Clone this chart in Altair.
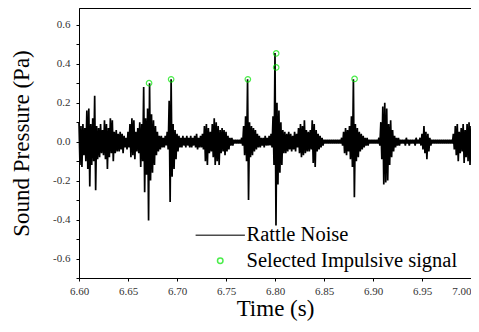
import altair as alt
import pandas as pd

# Sampling grid of the envelope (s)
t_start = 6.600
t_step = 0.002

# Upper / lower excursions of the rattle-noise trace (Pa)
upper = [0.10, 0.08, 0.09, 0.07, 0.16, 0.17, 0.09, 0.12, 0.235, 0.08,
         0.07, 0.09, 0.06, 0.11, 0.09, 0.07, 0.12, 0.11, 0.05, 0.06,
         0.04, 0.05, 0.04, 0.03, 0.02, 0.05, 0.09, 0.12, 0.11, 0.05,
         0.07, 0.10, 0.09, 0.28, 0.12, 0.17, 0.30, 0.14, 0.11, 0.08,
         0.05, 0.03, 0.03, 0.02, 0.03, 0.05, 0.21, 0.32, 0.09, 0.06,
         0.04, 0.03, 0.02, 0.03, 0.02, 0.03, 0.02, 0.03, 0.02, 0.03,
         0.04, 0.02, 0.03, 0.04, 0.08, 0.09, 0.07, 0.05, 0.09, 0.12,
         0.10, 0.08, 0.06, 0.07, 0.06, 0.05, 0.03, 0.02, 0.02, 0.01,
         0.01, 0.01, 0.01, 0.02, 0.08, 0.13, 0.32, 0.10, 0.08, 0.07,
         0.06, 0.04, 0.03, 0.02, 0.02, 0.03, 0.02, 0.03, 0.04, 0.13,
         0.455, 0.20, 0.16, 0.10, 0.06, 0.05, 0.04, 0.05, 0.04, 0.03,
         0.05, 0.04, 0.07, 0.09, 0.08, 0.11, 0.06, 0.05, 0.06, 0.11,
         0.09, 0.06, 0.04, 0.03, 0.02, 0.01, 0.01, 0.01, 0.01, 0.01,
         0.01, 0.01, 0.01, 0.01, 0.02, 0.05, 0.07, 0.06, 0.08, 0.13,
         0.32, 0.09, 0.07, 0.05, 0.04, 0.03, 0.02, 0.02, 0.01, 0.01,
         0.01, 0.01, 0.01, 0.02, 0.10, 0.18, 0.20, 0.17, 0.09, 0.11,
         0.06, 0.03, 0.02, 0.02, 0.01, 0.01, 0.01, 0.02, 0.01, 0.01,
         0.01, 0.01, 0.02, 0.01, 0.02, 0.04, 0.08, 0.05, 0.04, 0.02,
         0.01, 0.01, 0.01, 0.01, 0.01, 0.01, 0.01, 0.01, 0.01, 0.01,
         0.01, 0.04, 0.08, 0.09, 0.05, 0.07, 0.09, 0.06, 0.09, 0.10,
         0.08]
lower = [-0.12, -0.13, -0.07, -0.10, -0.14, -0.23, -0.12, -0.10, -0.25, -0.09,
         -0.08, -0.06, -0.07, -0.09, -0.14, -0.08, -0.06, -0.10, -0.06, -0.05,
         -0.05, -0.04, -0.06, -0.03, -0.04, -0.03, -0.08, -0.07, -0.09, -0.05,
         -0.06, -0.13, -0.10, -0.26, -0.17, -0.405, -0.20, -0.16, -0.12, -0.07,
         -0.05, -0.04, -0.03, -0.03, -0.02, -0.04, -0.31, -0.18, -0.14, -0.09,
         -0.05, -0.03, -0.03, -0.02, -0.03, -0.02, -0.03, -0.03, -0.02, -0.03,
         -0.04, -0.03, -0.03, -0.04, -0.10, -0.12, -0.06, -0.05, -0.08, -0.12,
         -0.10, -0.12, -0.06, -0.05, -0.07, -0.05, -0.04, -0.02, -0.02, -0.01,
         -0.01, -0.01, -0.01, -0.02, -0.07, -0.10, -0.30, -0.08, -0.07, -0.05,
         -0.04, -0.03, -0.03, -0.02, -0.03, -0.02, -0.02, -0.02, -0.03, -0.12,
         -0.43, -0.22, -0.16, -0.12, -0.06, -0.06, -0.05, -0.04, -0.05, -0.04,
         -0.05, -0.03, -0.06, -0.08, -0.07, -0.06, -0.05, -0.05, -0.04, -0.11,
         -0.13, -0.05, -0.04, -0.03, -0.02, -0.01, -0.01, -0.01, -0.01, -0.01,
         -0.01, -0.01, -0.01, -0.01, -0.02, -0.06, -0.07, -0.05, -0.09, -0.13,
         -0.285, -0.10, -0.08, -0.05, -0.04, -0.03, -0.02, -0.02, -0.01, -0.01,
         -0.01, -0.01, -0.01, -0.02, -0.09, -0.22, -0.21, -0.20, -0.12, -0.08,
         -0.05, -0.03, -0.02, -0.02, -0.01, -0.01, -0.02, -0.01, -0.02, -0.01,
         -0.01, -0.02, -0.01, -0.01, -0.02, -0.04, -0.06, -0.09, -0.05, -0.02,
         -0.01, -0.01, -0.01, -0.01, -0.01, -0.01, -0.01, -0.01, -0.01, -0.01,
         -0.01, -0.04, -0.07, -0.10, -0.06, -0.05, -0.11, -0.08, -0.10, -0.12,
         -0.09]

# Selected impulsive peaks
peak_t = [6.6715, 6.6940, 6.7723, 6.8012, 6.8012, 6.8812]
peak_p = [0.300, 0.320, 0.320, 0.453, 0.381, 0.322]

series_names = ["Rattle Noise", "Selected Impulsive signal"]
x_ticks = [6.60, 6.65, 6.70, 6.75, 6.80, 6.85, 6.90, 6.95, 7.00]
y_ticks = [-0.7, -0.6, -0.5, -0.4, -0.3, -0.2, -0.1, 0.0, 0.1, 0.2, 0.3, 0.4, 0.5, 0.6]

rows = []
for i, (u, l) in enumerate(zip(upper, lower)):
    t = t_start + i * t_step
    rows.append({"t": t, "p": u, "series": series_names[0]})
    rows.append({"t": t + t_step / 2, "p": l, "series": series_names[0]})
noise = pd.DataFrame(rows)
peaks = pd.DataFrame({"t": peak_t, "p": peak_p, "series": series_names[1]})

FONT = "Liberation Serif, Times New Roman, Times, serif"

xenc = alt.X("t:Q", scale=alt.Scale(domain=[6.6, 7.0], nice=False, zero=False),
             axis=alt.Axis(values=x_ticks, format=".2f", title="Time (s)", grid=False,
                           tickSize=3, labelPadding=4, titlePadding=1, labelFlush=False,
                           labelAlign={"condition": {"test": "datum.value > 6.99", "value": "right"},
                                       "value": "center"},
                           labelFont=FONT, titleFont=FONT))
yenc = alt.Y("p:Q", scale=alt.Scale(domain=[-0.7, 0.686], nice=False, zero=False),
             axis=alt.Axis(values=y_ticks, grid=False, tickSize=3, labelPadding=6,
                           labelFlush=False, labelFont=FONT, titleFont=FONT,
                           labelExpr="abs(round(datum.value*10)) % 2 == 0 && abs(datum.value) < 0.65 ? (datum.value < -0.01 ? '-' + format(abs(datum.value), '.1f') : format(abs(datum.value), '.1f')) : ''",
                           title="Sound Pressure (Pa)", titlePadding=19))

leg = dict(title=None, orient="none", legendX=131, legendY=217,
           labelFont=FONT, labelFontSize=20.5, labelColor="black", labelLimit=0,
           labelOffset=16, symbolSize=30, symbolStrokeWidth=1.5,
           rowPadding=4.5, symbolFillColor="transparent")
color = alt.Color("series:N", scale=alt.Scale(domain=series_names, range=["black", "#00e600"]),
                  legend=alt.Legend(**leg))
shape = alt.Shape("series:N", scale=alt.Scale(domain=series_names, range=["M-9,0H9", "circle"]),
                  legend=alt.Legend(**leg))

line = alt.Chart(noise).mark_line(strokeWidth=1.7, color="black").encode(
    x=xenc, y=yenc, color=color)
points = alt.Chart(peaks).mark_point(filled=False, size=30, strokeWidth=1.2).encode(
    x=xenc, y=yenc, color=color, shape=shape)

chart = alt.layer(line, points).properties(
    width=392, height=270,
    autosize=alt.AutoSizeParams(type="none"),
    padding={"left": 71, "top": 0, "right": 0, "bottom": 46},
).configure_view(stroke="black", strokeWidth=1).configure_axis(
    domainColor="black", tickColor="black", labelFont=FONT, labelFontSize=11,
    labelColor="#333333", titleFont=FONT, titleFontSize=23, titleFontWeight="normal",
    titleColor="black")

chart.save("out.html", embed_options={"renderer": "svg", "actions": False})
